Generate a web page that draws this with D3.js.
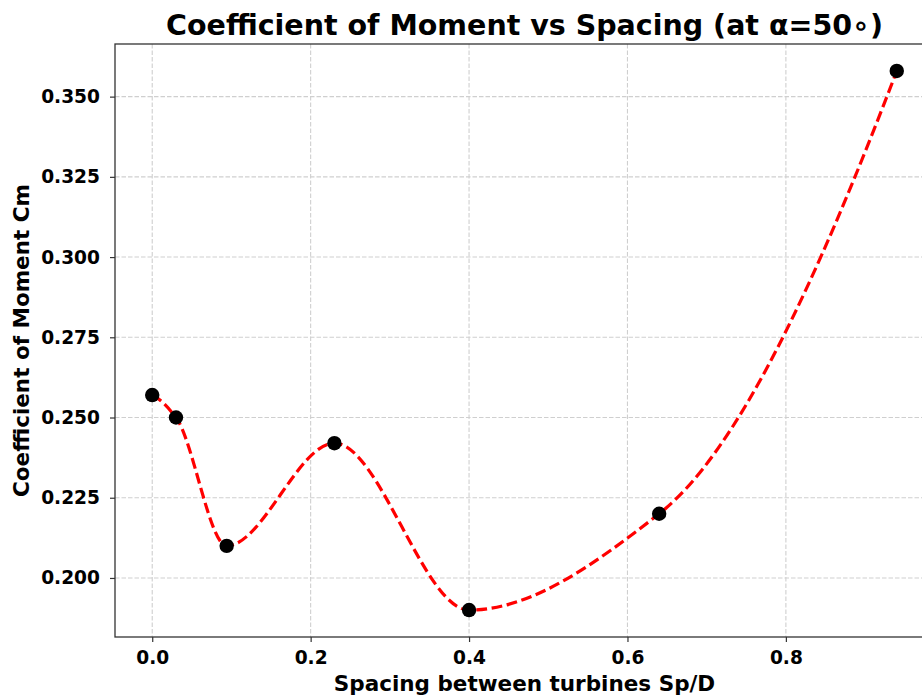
<!DOCTYPE html>
<html>
<head>
<meta charset="utf-8">
<script src="https://cdn.jsdelivr.net/npm/d3@7"></script>
<style>
  html, body { margin: 0; padding: 0; background: #fff; }
  svg { display: block; font-family: "DejaVu Sans", sans-serif; }
</style>
</head>
<body>
<div id="chart"></div>
<script>
// Spacing ratio Sp/D and the measured moment coefficient at alpha = 50 deg
const spacing = [0.0, 0.03, 0.094, 0.23, 0.40, 0.64, 0.94];
const cm = [0.257, 0.250, 0.210, 0.242, 0.190, 0.220, 0.358];
const xTicks = [0.0, 0.2, 0.4, 0.6, 0.8];
const yTicks = [0.200, 0.225, 0.250, 0.275, 0.300, 0.325, 0.350];

const W = 922, H = 695;
const margin = { left: 115, top: 44, right: 934, bottom: 637 };

// Shape-preserving piecewise cubic Hermite (PCHIP) curve y(x),
// emitted as one Bezier segment per interval.
function curvePchip(context) {
  let xs, ys;
  const sign = v => (v > 0) - (v < 0);
  return {
    areaStart() {}, areaEnd() {},
    lineStart() { xs = []; ys = []; },
    point(px, py) { xs.push(+px); ys.push(+py); },
    lineEnd() {
      const n = xs.length;
      if (n === 0) return;
      context.moveTo(xs[0], ys[0]);
      if (n < 3) { for (let i = 1; i < n; i++) context.lineTo(xs[i], ys[i]); return; }
      const h = d3.range(n - 1).map(i => xs[i + 1] - xs[i]);
      const s = d3.range(n - 1).map(i => (ys[i + 1] - ys[i]) / h[i]);
      const d = new Array(n).fill(0);
      for (let k = 1; k < n - 1; k++) {
        if (s[k - 1] * s[k] <= 0) { d[k] = 0; continue; }
        const w1 = 2 * h[k] + h[k - 1], w2 = h[k] + 2 * h[k - 1];
        d[k] = (w1 + w2) / (w1 / s[k - 1] + w2 / s[k]);
      }
      const endSlope = (h0, h1, m0, m1) => {
        let e = ((2 * h0 + h1) * m0 - h0 * m1) / (h0 + h1);
        if (sign(e) !== sign(m0)) e = 0;
        else if (sign(m0) !== sign(m1) && Math.abs(e) > 3 * Math.abs(m0)) e = 3 * m0;
        return e;
      };
      d[0] = endSlope(h[0], h[1], s[0], s[1]);
      d[n - 1] = endSlope(h[n - 2], h[n - 3], s[n - 2], s[n - 3]);
      for (let i = 0; i < n - 1; i++) {
        context.bezierCurveTo(
          xs[i] + h[i] / 3, ys[i] + d[i] * h[i] / 3,
          xs[i + 1] - h[i] / 3, ys[i + 1] - d[i + 1] * h[i] / 3,
          xs[i + 1], ys[i + 1]);
      }
    }
  };
}

const svg = d3.select("#chart").append("svg")
  .attr("width", W).attr("height", H);

// 5% padding around the data range on both axes
const xPad = (d3.max(spacing) - d3.min(spacing)) * 0.05;
const yPad = (d3.max(cm) - d3.min(cm)) * 0.05;
const x = d3.scaleLinear()
  .domain([d3.min(spacing) - xPad, d3.max(spacing) + xPad])
  .range([margin.left, margin.right]);
const y = d3.scaleLinear()
  .domain([d3.min(cm) - yPad, d3.max(cm) + yPad])
  .range([margin.bottom, margin.top]);

const plot = svg.append("g");

// grid
plot.append("g").selectAll("line").data(xTicks).join("line")
  .attr("x1", d => x(d)).attr("x2", d => x(d))
  .attr("y1", margin.top).attr("y2", margin.bottom)
  .attr("stroke", "#cfcfcf").attr("stroke-width", 1.1)
  .attr("stroke-dasharray", "4.5,2");
plot.append("g").selectAll("line").data(yTicks).join("line")
  .attr("x1", margin.left).attr("x2", margin.right)
  .attr("y1", d => y(d)).attr("y2", d => y(d))
  .attr("stroke", "#cfcfcf").attr("stroke-width", 1.1)
  .attr("stroke-dasharray", "4.5,2");

// smooth dashed curve through the points
const pts = spacing.map((s, i) => [s, cm[i]]);
plot.append("path")
  .datum(pts)
  .attr("fill", "none")
  .attr("stroke", "#ff0000")
  .attr("stroke-width", 3.2)
  .attr("stroke-dasharray", "10.8,4.6")
  .attr("d", d3.line().x(d => x(d[0])).y(d => y(d[1])).curve(curvePchip));

// markers
plot.append("g").selectAll("circle").data(pts).join("circle")
  .attr("cx", d => x(d[0])).attr("cy", d => y(d[1]))
  .attr("r", 7.2).attr("fill", "#000");

// axes
const xAxis = d3.axisBottom(x).tickValues(xTicks).tickFormat(d3.format(".1f"))
  .tickSizeOuter(0).tickSize(5).tickPadding(9);
const yAxis = d3.axisLeft(y).tickValues(yTicks).tickFormat(d3.format(".3f"))
  .tickSizeOuter(0).tickSize(5).tickPadding(10);

const gx = svg.append("g").attr("transform", `translate(0,${margin.bottom})`).call(xAxis);
const gy = svg.append("g").attr("transform", `translate(${margin.left},0)`).call(yAxis);
[gx, gy].forEach(g => {
  g.select(".domain").remove();
  g.selectAll(".tick line").attr("stroke", "#333").attr("stroke-width", 1.2);
  g.selectAll(".tick text").attr("fill", "#000")
    .style("font-family", "'DejaVu Sans', sans-serif")
    .style("font-size", "18.6px").style("font-weight", "bold");
});

// frame
svg.append("rect")
  .attr("x", margin.left).attr("y", margin.top)
  .attr("width", margin.right - margin.left).attr("height", margin.bottom - margin.top)
  .attr("fill", "none").attr("stroke", "#333").attr("stroke-width", 1.3);

// labels
const cx = (margin.left + margin.right) / 2;
svg.append("text")
  .attr("x", cx).attr("y", 35)
  .attr("text-anchor", "middle")
  .style("font-size", "28.5px").style("font-weight", "bold")
  .text("Coefficient of Moment vs Spacing (at α=50∘)");
svg.append("text")
  .attr("x", cx).attr("y", 691)
  .attr("text-anchor", "middle")
  .style("font-size", "21.5px").style("font-weight", "bold")
  .text("Spacing between turbines Sp/D");
svg.append("text")
  .attr("transform", `translate(29,${(margin.top + margin.bottom) / 2}) rotate(-90)`)
  .attr("text-anchor", "middle")
  .style("font-size", "21.5px").style("font-weight", "bold")
  .text("Coefficient of Moment Cm");
</script>
</body>
</html>
